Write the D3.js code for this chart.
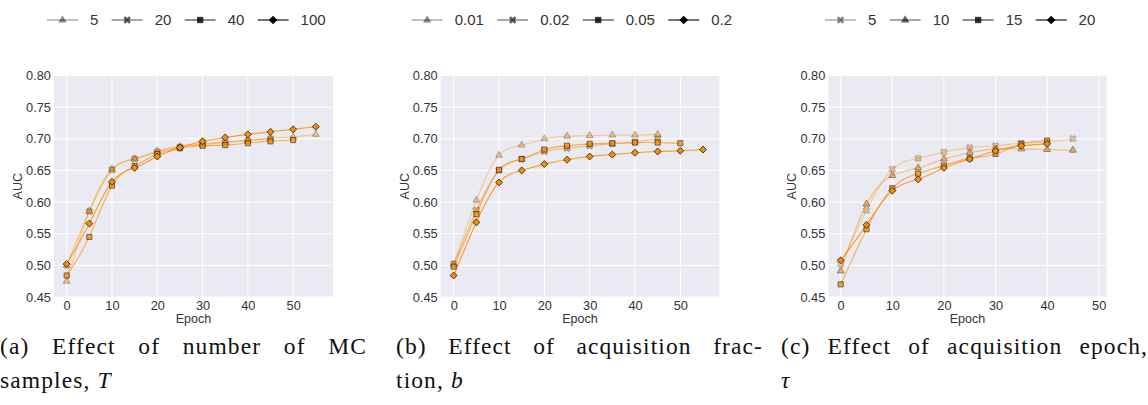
<!DOCTYPE html>
<html><head><meta charset="utf-8">
<script src="https://cdn.jsdelivr.net/npm/d3@7"></script>
<style>
body{margin:0;background:#fff;width:1148px;height:405px;overflow:hidden;position:relative;}
svg{display:block;position:absolute;left:0;top:0;}
.cap{position:absolute;font-family:"Liberation Serif","Times New Roman",serif;font-size:23.5px;letter-spacing:1.1px;color:#111;width:367px;line-height:34px;white-space:nowrap;}
.cap .l1{text-align:justify;text-align-last:justify;white-space:normal;}
</style></head><body>
<svg id="chart" width="1148" height="405"></svg>
<script>
// ---------------- data ----------------
const epochs = [0,5,10,15,20,25,30,35,40,45,50,55];
const yTicks = [0.45,0.50,0.55,0.60,0.65,0.70,0.75,0.80];
const xTicksAB = [0,10,20,30,40,50];
const xTicksC = [0,10,20,30,40,50];

// (a) number of MC samples T
const aLabels = ["5","20","40","100"];
const aT5   = [0.475,0.586,0.652,0.669,0.681,0.688,0.692,0.695,0.698,0.701,0.703,0.707];
const aT20  = [0.500,0.585,0.651,0.668,0.679,0.687,0.691,0.694,0.697,0.700];
const aT40  = [0.484,0.545,0.626,0.657,0.676,0.685,0.689,0.690,0.693,0.696,0.698];
const aT100 = [0.502,0.566,0.632,0.654,0.672,0.686,0.696,0.702,0.707,0.711,0.715,0.719];

// (b) acquisition fraction b
const bLabels = ["0.01","0.02","0.05","0.2"];
const bB001 = [0.502,0.603,0.674,0.690,0.700,0.704,0.705,0.706,0.706,0.707];
const bB002 = [0.502,0.587,0.650,0.668,0.680,0.685,0.689,0.692,0.695,0.700];
const bB005 = [0.498,0.581,0.651,0.668,0.683,0.689,0.692,0.693,0.694,0.694,0.693];
const bB02  = [0.484,0.568,0.631,0.650,0.660,0.667,0.672,0.675,0.678,0.680,0.681,0.683];

// (c) acquisition epoch tau
const cLabels = ["5","10","15","20"];
const cTau5  = [0.502,0.587,0.652,0.669,0.679,0.686,0.689,0.693,0.695,0.700];
const cTau10 = [0.491,0.597,0.642,0.654,0.668,0.678,0.684,0.684,0.683,0.682];
const cTau15 = [0.470,0.557,0.622,0.645,0.658,0.669,0.676,0.692,0.697];
const cTau20 = [0.508,0.564,0.618,0.636,0.654,0.668,0.681,0.689,0.692];

// ---------------- layout ----------------
const svg = d3.select("#chart");
const plotTop = 75.5, plotBottom = 297;
const alphas = [0.45, 0.62, 0.8, 1.0];
const orange = "#ff8c00";
const bg = "#eaeaf2";
const textCol = "#333";

const symTri = {type:d3.symbolTriangle, size:20, rot:0, lsize:30};
const symX   = {type:d3.symbolCross, size:26, rot:45, lsize:36};
const symSq  = {type:d3.symbolSquare, size:26, rot:0, lsize:40};
const symDia = {type:d3.symbolSquare, size:24, rot:45, lsize:38};

const panels = [
  {left:54, right:333, xDomain:[-2.8,58.8], xTicks:xTicksAB, labels:aLabels,
   series:[aT5,aT20,aT40,aT100], syms:[symTri,symX,symSq,symDia], legendX:47},
  {left:440.7, right:719.3, xDomain:[-2.87,58.6], xTicks:xTicksAB, labels:bLabels,
   series:[bB001,bB002,bB005,bB02], syms:[symTri,symX,symSq,symDia], legendX:411.7},
  {left:828.3, right:1106.7, xDomain:[-2.4,51.55], xTicks:xTicksC, labels:cLabels,
   series:[cTau5,cTau10,cTau15,cTau20], syms:[symX,symTri,symSq,symDia], legendX:825}
];

const y = d3.scaleLinear().domain([0.45,0.80]).range([plotBottom, plotTop]);

panels.forEach(p => {
  const x = d3.scaleLinear().domain(p.xDomain).range([p.left, p.right]);
  const g = svg.append("g");
  // background
  g.append("rect").attr("x", p.left).attr("y", plotTop)
    .attr("width", p.right - p.left).attr("height", plotBottom - plotTop)
    .attr("fill", bg);
  // grid
  g.selectAll(".gy").data(yTicks).join("line")
    .attr("x1", p.left).attr("x2", p.right)
    .attr("y1", d => y(d)).attr("y2", d => y(d))
    .attr("stroke", "#fff").attr("stroke-width", 1);
  g.selectAll(".gx").data(p.xTicks).join("line")
    .attr("x1", d => x(d)).attr("x2", d => x(d))
    .attr("y1", plotTop).attr("y2", plotBottom)
    .attr("stroke", "#fff").attr("stroke-width", 1);

  // axes
  const ya = g.append("g").attr("transform", `translate(${p.left},0)`)
    .call(d3.axisLeft(y).tickValues(yTicks).tickFormat(d3.format(".2f")).tickSize(0).tickPadding(3));
  const xa = g.append("g").attr("transform", `translate(0,${plotBottom})`)
    .call(d3.axisBottom(x).tickValues(p.xTicks).tickFormat(d3.format("d")).tickSize(0).tickPadding(3.5));
  [ya, xa].forEach(a => {
    a.select(".domain").remove();
    a.selectAll("text").attr("fill", textCol)
      .style("font-family", "'Liberation Sans', Arial, sans-serif").style("font-size", "12.8px");
  });

  // axis labels
  g.append("text").attr("transform", `translate(${p.left - 36.5},${(plotTop+plotBottom)/2}) rotate(-90)`)
    .attr("text-anchor", "middle").attr("dy", "0.35em")
    .attr("fill", textCol).style("font-family", "'Liberation Sans', Arial, sans-serif").style("font-size", "12.5px")
    .text("AUC");
  g.append("text").attr("x", (p.left + p.right)/2).attr("y", 322.5)
    .attr("text-anchor", "middle")
    .attr("fill", textCol).style("font-family", "'Liberation Sans', Arial, sans-serif").style("font-size", "12.5px")
    .text("Epoch");

  // lines
  const line = d3.line().x((d,i) => x(epochs[i])).y(d => y(d)).curve(d3.curveNatural);
  const clipId = "clip" + p.left.toFixed(0);
  svg.append("clipPath").attr("id", clipId).append("rect")
    .attr("x", p.left).attr("y", plotTop).attr("width", p.right - p.left).attr("height", plotBottom - plotTop);
  const lg = g.append("g").attr("clip-path", `url(#${clipId})`);
  p.series.forEach((s, k) => {
    lg.append("path").attr("d", line(s)).attr("fill", "none")
      .attr("stroke", orange).attr("stroke-width", 1.1).attr("stroke-opacity", alphas[k] * 0.85);
  });
  // markers
  p.series.forEach((s, k) => {
    const sym = p.syms[k];
    const gen = d3.symbol().type(sym.type).size(sym.size);
    g.append("g").selectAll("path").data(s).join("path")
      .attr("d", gen)
      .attr("transform", (d,i) => `translate(${x(epochs[i])},${y(d)}) rotate(${sym.rot})`)
      .attr("fill", orange).attr("stroke", "#222").attr("stroke-width", 0.8)
      .attr("opacity", alphas[k]);
  });

  // legend
  const leg = svg.append("g");
  let cx = p.legendX;
  const ly = 20;
  p.labels.forEach((lab, k) => {
    const sym = p.syms[k];
    leg.append("line").attr("x1", cx).attr("x2", cx + 31).attr("y1", ly).attr("y2", ly)
      .attr("stroke", "#000").attr("stroke-width", 1.1).attr("stroke-opacity", alphas[k]);
    leg.append("path").attr("d", d3.symbol().type(sym.type).size(sym.lsize))
      .attr("transform", `translate(${cx + 15.5},${ly}) rotate(${sym.rot})`)
      .attr("fill", "#000").attr("opacity", alphas[k]);
    const t = leg.append("text").attr("x", cx + 43).attr("y", ly).attr("dy", "0.35em")
      .attr("fill", textCol).style("font-family", "'Liberation Sans', Arial, sans-serif").style("font-size", "15px")
      .text(lab);
    cx = cx + 43 + t.node().getComputedTextLength() + 13.3;
  });
});

// captions
const caps = [
  {x:0,   l1:"(a) Effect of number of MC", l2:"samples, <i>T</i>"},
  {x:396, l1:"(b) Effect of acquisition frac-", l2:"tion, <i>b</i>"},
  {x:781, l1:"(c) Effect of acquisition epoch,", l2:"<i>τ</i>"}
];
caps.forEach(c => {
  const d = d3.select("body").append("div").attr("class", "cap")
    .style("left", c.x + "px").style("top", "329px");
  d.append("div").attr("class", "l1").text(c.l1);
  d.append("div").html(c.l2);
});
</script>
</body></html>
